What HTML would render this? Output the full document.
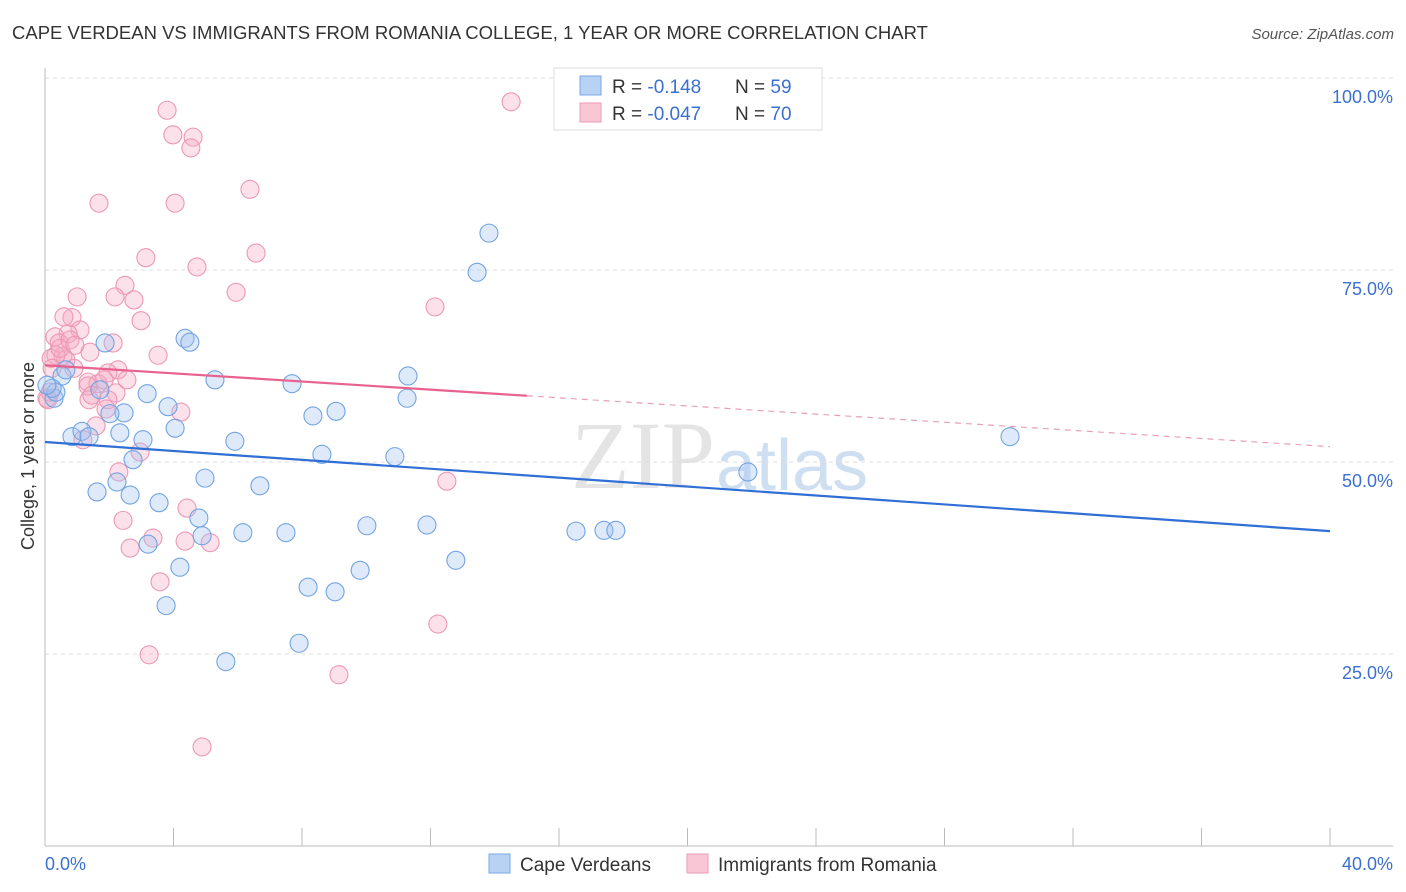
<!DOCTYPE html>
<html><head><meta charset="utf-8"><style>
body{margin:0;background:#fff;font-family:"Liberation Sans",sans-serif;}
svg{display:block}
</style></head><body>
<svg id="chart" width="1406" height="892">
<text x="12" y="39" font-size="18.5" fill="#333">CAPE VERDEAN VS IMMIGRANTS FROM ROMANIA COLLEGE, 1 YEAR OR MORE CORRELATION CHART</text>
<text x="1394" y="39" font-size="15" fill="#555" font-style="italic" text-anchor="end">Source: ZipAtlas.com</text>
<text x="715" y="488" font-size="96" fill="#e4e4e4" text-anchor="end" font-family="Liberation Serif">ZIP</text>
<text x="716" y="490" font-size="72" fill="#cfdff2">atlas</text>
<g id="grid"></g><g id="axes"></g><g id="marks"></g>
<text transform="translate(34,456) rotate(-90)" font-size="18" fill="#333" text-anchor="middle">College, 1 year or more</text>
<text x="45" y="870" font-size="18" fill="#3a70d0">0.0%</text>
<text x="1393" y="870" font-size="18" fill="#3a70d0" text-anchor="end">40.0%</text>
<g>
<rect x="554" y="68" width="268" height="62" fill="#fff" stroke="#ddd"/>
<rect x="580" y="76" width="21" height="19" fill="#b8d2f4" stroke="#7aa8e6"/>
<rect x="580" y="103" width="21" height="19" fill="#f9c6d6" stroke="#ef9ab6"/>
<text x="612" y="93" font-size="19" fill="#333">R = <tspan fill="#3a70d0"> -0.148</tspan><tspan x="735">N = </tspan><tspan fill="#3a70d0">59</tspan></text>
<text x="612" y="120" font-size="19" fill="#333">R = <tspan fill="#3a70d0">-0.047</tspan><tspan x="735">N = </tspan><tspan fill="#3a70d0">70</tspan></text>
</g>
<g>
<rect x="489" y="854" width="21" height="19" fill="#b8d2f4" stroke="#7aa8e6"/>
<text x="520" y="871" font-size="19" fill="#333">Cape Verdeans</text>
<rect x="687" y="854" width="21" height="19" fill="#f9c6d6" stroke="#ef9ab6"/>
<text x="718" y="871" font-size="19" fill="#333">Immigrants from Romania</text>
</g>
</svg>
<script>
const blueX=[13.82,13.45,4.36,4.51,1.87,5.29,7.69,11.30,3.18,1.71,0.28,0.34,0.53,0.65,0.22,11.27,8.34,9.06,2.46,2.02,3.83,4.05,0.84,1.15,1.37,2.33,3.05,5.91,8.62,10.89,2.74,21.88,30.04,4.98,2.24,1.62,2.65,6.69,3.55,4.79,10.02,11.89,6.16,7.50,16.53,17.40,17.77,3.21,4.89,4.20,9.81,12.79,8.19,9.03,3.77,7.91,5.63,0.06];
const blueY=[79.8,74.7,66.1,65.6,65.5,60.7,60.2,61.2,58.9,59.4,58.3,59.1,61.2,62.0,59.6,58.3,56.0,56.6,56.4,56.3,57.2,54.4,53.3,54.0,53.3,53.8,52.9,52.7,51.0,50.7,50.3,48.7,53.3,47.9,47.4,46.1,45.7,46.9,44.7,42.7,41.7,41.8,40.8,40.8,41.0,41.1,41.1,39.3,40.4,36.3,35.9,37.2,33.7,33.1,31.3,26.4,24.0,60.0];
const pinkX=[14.51,3.80,3.98,4.61,4.54,6.38,1.68,4.05,6.57,3.14,4.73,2.49,5.95,1.00,2.18,2.77,12.14,2.99,0.84,0.59,1.09,0.72,0.31,0.44,2.12,3.52,1.40,0.56,0.19,0.90,2.27,1.96,1.34,2.55,1.65,2.21,1.96,1.37,1.90,4.23,1.59,1.18,0.09,0.16,2.96,2.30,12.51,4.42,2.43,3.36,4.36,5.14,2.65,3.58,12.23,3.24,9.15,4.89,1.34,0.65,0.34,0.47,0.78,1.84,0.22,0.06,0.93,1.46];
const pinkY=[96.9,95.8,92.6,92.3,90.9,85.5,83.7,83.7,77.2,76.6,75.4,73.0,72.1,71.5,71.5,71.1,70.2,68.4,68.8,68.9,67.2,66.7,66.3,65.5,65.5,63.9,64.3,63.8,63.5,62.2,62.0,61.6,60.4,60.7,60.2,59.0,58.1,58.1,56.9,56.5,54.7,52.9,58.1,59.1,51.3,48.7,47.5,44.0,42.4,40.1,39.7,39.5,38.8,34.4,28.9,24.9,22.3,12.9,59.9,63.3,63.9,64.8,65.9,60.7,62.2,58.3,65.2,58.7];
const blueTrend=[52.6,41.0];
const pinkTrend=[62.6,52.0];
const pinkSolidEnd=15.0;
const yTicks=[25,50,75,100];
const xTicks=[0,4,8,12,16,20,24,28,32,36,40];
const NS='http://www.w3.org/2000/svg';
const sx=v=>45+v/40*1285, sy=v=>846-v/100*768;
function mk(t,a,p){const e=document.createElementNS(NS,t);for(const k in a)e.setAttribute(k,a[k]);p.appendChild(e);return e;}
const grid=document.getElementById('grid'),axes=document.getElementById('axes'),marks=document.getElementById('marks');
yTicks.forEach(v=>{
 const l=mk('line',{x1:45,x2:1393,y1:sy(v),y2:sy(v),stroke:'#ddd','stroke-dasharray':'4,4'},grid);
 
 
 const t=mk('text',{x:1393,y:sy(v)+25,'font-size':18,fill:'#3a70d0','text-anchor':'end'},grid);
 t.textContent=v.toFixed(1)+'%';
 
 
});
const al=mk('line',{x1:45,x2:45,y1:68,y2:846,stroke:'#bbb'},axes);


const ab=mk('line',{x1:45,x2:1393,y1:846,y2:846,stroke:'#bbb'},axes);


xTicks.forEach(v=>{
 const l=mk('line',{x1:sx(v),x2:sx(v),y1:828,y2:846,stroke:'#bbb'},axes);
 
 
});
function pts(X,Y,fill,stroke,name){
 X.forEach((x,i)=>{
  const c=mk('circle',{cx:sx(x),cy:sy(Y[i]),r:9,fill:fill,stroke:stroke,'stroke-width':1.1},marks);
  
  
 });
}
pts(pinkX,pinkY,'rgba(246,170,196,0.35)','#ec98b4','romania-point');
pts(blueX,blueY,'rgba(160,196,240,0.35)','#72a4e2','cape-verdean-point');
const bt=mk('line',{x1:sx(0),y1:sy(blueTrend[0]),x2:sx(40),y2:sy(blueTrend[1]),stroke:'#2f6fd6','stroke-width':2.2},marks);


const pAt=x=>pinkTrend[0]+(pinkTrend[1]-pinkTrend[0])*x/40;
const pt=mk('line',{x1:sx(0),y1:sy(pAt(0)),x2:sx(pinkSolidEnd),y2:sy(pAt(pinkSolidEnd)),stroke:'#e8628e','stroke-width':2.2},marks);


const pd=mk('line',{x1:sx(pinkSolidEnd),y1:sy(pAt(pinkSolidEnd)),x2:sx(40),y2:sy(pAt(40)),stroke:'#e8a0b8','stroke-width':1.2,'stroke-dasharray':'6,5'},marks);


</script>
</body></html>
